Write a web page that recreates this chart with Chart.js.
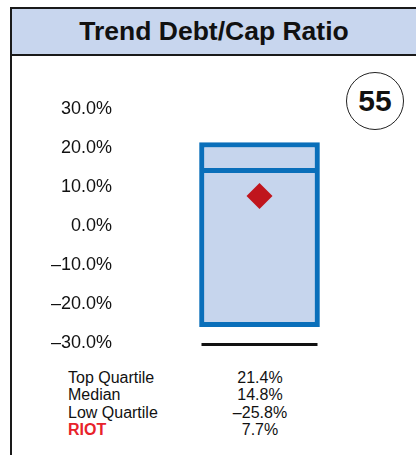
<!DOCTYPE html>
<html>
<head>
<meta charset="utf-8">
<script src="https://cdn.jsdelivr.net/npm/chart.js@4"></script>
<style>
  body { margin: 0; background: #fff; font-family: "Liberation Sans", Arial, sans-serif; }
  #page { position: relative; width: 416px; height: 455px; overflow: hidden; }
  #leftline { position: absolute; left: 10px; top: 7px; width: 2px; height: 448px; background: #1a1a1a; }
  #header {
    position: absolute; left: 10px; top: 7px; width: 406px; height: 49px; box-sizing: border-box;
    background: #c8d6ee; border-top: 2px solid #1a1a1a; border-bottom: 2px solid #1a1a1a; border-left: 2px solid #1a1a1a;
    font-weight: bold; font-size: 26.5px; line-height: 45px; text-align: center; color: #111;
  }
  #rank {
    position: absolute; left: 346px; top: 72px; width: 58px; height: 58px; box-sizing: border-box;
    border: 1.5px solid #222; border-radius: 50%;
    font-weight: bold; font-size: 30px; line-height: 55px; text-align: center; color: #111;
  }
  #chartbox { position: absolute; left: 12px; top: 60px; width: 404px; height: 300px; }
  #table { position: absolute; left: 68px; top: 369px; font-size: 16px; line-height: 17.3px; color: #111; }
  .row { position: relative; height: 17.3px; }
  .lab { position: absolute; left: 0; white-space: nowrap; }
  .val { position: absolute; left: 142px; width: 100px; text-align: center; white-space: nowrap; }
  .riot { color: #e8222b; font-weight: bold; }
</style>
</head>
<body>
<div id="page">
  <div id="header">Trend Debt/Cap Ratio</div>
  <div id="leftline"></div>
  <div id="rank"></div>
  <div id="chartbox"><canvas id="chart"></canvas></div>
  <div id="table"></div>
</div>
<script>
const categories = ['RIOT'];
const topQuartile = [21.4];
const median = [14.8];
const lowQuartile = [-25.8];
const riotValue = [7.7];
const tickValues = [-30, -20, -10, 0, 10, 20, 30];
const tableLabels = ['Top Quartile', 'Median', 'Low Quartile', 'RIOT'];
const rank = 55;

function pct(v) {
  return (v < 0 ? '\u2013' : '') + Math.abs(v).toFixed(1) + '%';
}

document.getElementById('rank').textContent = rank;

// summary table under the chart
const tableValues = [topQuartile[0], median[0], lowQuartile[0], riotValue[0]];
const table = document.getElementById('table');
tableLabels.forEach(function (label, i) {
  const row = document.createElement('div');
  row.className = 'row';
  const isRiot = label === 'RIOT';
  row.innerHTML = '<span class="lab' + (isRiot ? ' riot' : '') + '">' + label + '</span>' +
    '<span class="val">' + pct(tableValues[i]) + '</span>';
  table.appendChild(row);
});

// black base line under the box at the axis minimum
const baseLine = {
  id: 'baseLine',
  afterDatasetsDraw(chart) {
    const bar = chart.getDatasetMeta(0).data[0];
    const y = chart.scales.y.getPixelForValue(chart.scales.y.min) + 1.5;
    const half = bar.width / 2 - 2;
    const ctx = chart.ctx;
    ctx.save();
    ctx.strokeStyle = '#111';
    ctx.lineWidth = 3;
    ctx.beginPath();
    ctx.moveTo(bar.x - half, y);
    ctx.lineTo(bar.x + half, y);
    ctx.stroke();
    ctx.restore();
  }
};

const ctx = document.getElementById('chart').getContext('2d');
new Chart(ctx, {
  type: 'bar',
  data: {
    labels: categories,
    datasets: [
      {
        label: 'Low to Median',
        data: lowQuartile.map((v, i) => [v, median[i]]),
        backgroundColor: '#c6d5ed',
        borderColor: '#0a6fba',
        borderWidth: { top: 5, bottom: 5, left: 5, right: 5 },
        borderSkipped: false,
        barThickness: 120,
        grouped: false,
        order: 2
      },
      {
        label: 'Median to Top',
        data: median.map((v, i) => [v, topQuartile[i]]),
        backgroundColor: '#c6d5ed',
        borderColor: '#0a6fba',
        borderWidth: { top: 5, bottom: 0, left: 5, right: 5 },
        borderSkipped: false,
        barThickness: 120,
        grouped: false,
        order: 2
      },
      {
        type: 'line',
        label: 'RIOT',
        data: riotValue,
        showLine: false,
        pointStyle: 'rectRot',
        pointRadius: 13,
        pointBackgroundColor: '#c0151d',
        pointBorderWidth: 0,
        order: 1
      }
    ]
  },
  options: {
    responsive: true,
    maintainAspectRatio: false,
    animation: false,
    layout: { padding: { top: 49, bottom: 17, left: 0, right: 12 } },
    plugins: { legend: { display: false }, tooltip: { enabled: false } },
    scales: {
      x: { display: false },
      y: {
        min: -30,
        max: 30,
        afterBuildTicks(scale) { scale.ticks = tickValues.map(v => ({ value: v })); },
        afterFit(scale) { scale.width = 104; },
        grid: { display: false, drawTicks: false },
        border: { display: false },
        ticks: {
          padding: 4,
          color: '#111',
          font: { family: '"Liberation Sans", Arial, sans-serif', size: 18 },
          callback: v => pct(v)
        }
      }
    }
  },
  plugins: [baseLine]
});
</script>
</body>
</html>
